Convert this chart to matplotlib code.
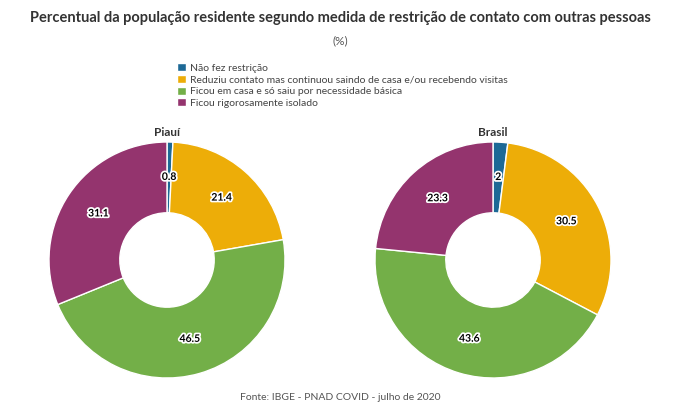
import numpy as np
import matplotlib.pyplot as plt
import matplotlib.patheffects as pe

plt.rcParams['font.family'] = ['Lato', 'DejaVu Sans']

categorias = ["Não fez restrição",
              "Reduziu contato mas continuou saindo de casa e/ou recebendo visitas",
              "Ficou em casa e só saiu por necessidade básica",
              "Ficou rigorosamente isolado"]
piaui = [0.8, 21.4, 46.5, 31.1]
brasil = [2, 30.5, 43.6, 23.3]
piaui_rot = ["0.8", "21.4", "46.5", "31.1"]
brasil_rot = ["2", "30.5", "43.6", "23.3"]
cores = ["#1d6996", "#edad08", "#73af48", "#94346e"]

fig = plt.figure(figsize=(6.8, 4.08), dpi=100)
fig.text(0.5, 0.955, "Percentual da população residente segundo medida de restrição de contato com outras pessoas",
         ha="center", va="center", fontsize=10.5, fontweight="bold", color="#333333")
fig.text(0.5, 0.9, "(%)", ha="center", va="center", fontsize=8.5, color="#555555")
fig.text(0.5, 0.025, "Fonte: IBGE - PNAD COVID - julho de 2020", ha="center", va="center",
         fontsize=7.5, color="#555555")

def donut(cx, titulo, valores, rotulos):
    w, h = 236 / 680, 236 / 408
    ax = fig.add_axes([cx / 680 - w / 2, (408 - 260) / 408 - h / 2, w, h])
    wedges, _ = ax.pie(valores, colors=cores, startangle=90, counterclock=False,
                       radius=1.0, wedgeprops=dict(width=0.6, edgecolor="white", linewidth=1))
    ax.set_xlim(-1, 1); ax.set_ylim(-1, 1); ax.set_aspect("equal")
    for wd, r in zip(wedges, rotulos):
        a = np.deg2rad((wd.theta1 + wd.theta2) / 2)
        ax.text(0.7 * np.cos(a), 0.7 * np.sin(a), r, ha="center", va="center", fontsize=7.5,
                fontweight="bold", color="black",
                path_effects=[pe.withStroke(linewidth=2.5, foreground="white")])
    fig.text(cx / 680, (408 - 132) / 408, titulo, ha="center", va="center",
             fontsize=8.5, fontweight="bold", color="#333333")
    return wedges

w = donut(167, "Piauí", piaui, piaui_rot)
donut(493, "Brasil", brasil, brasil_rot)
fig.legend(w, categorias, loc="upper left", bbox_to_anchor=(172 / 680, 1 - 58 / 408),
           frameon=False, fontsize=7.5, handlelength=0.8, handleheight=0.8,
           handletextpad=0.4, labelspacing=0.2, borderpad=0, labelcolor="#444444")
fig.savefig("out.png", dpi=100)
